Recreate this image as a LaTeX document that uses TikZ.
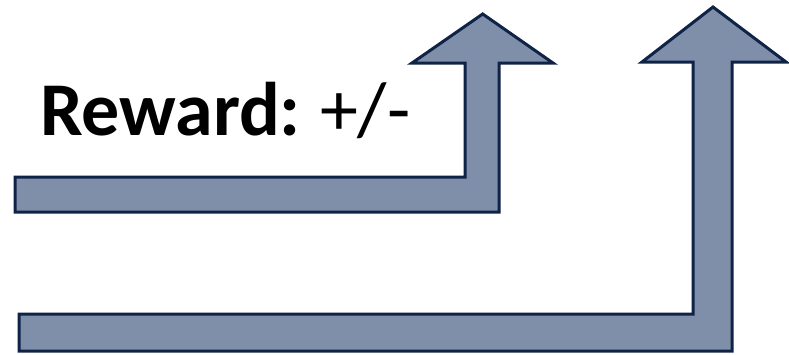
\documentclass[tikz,border=0pt]{standalone}
\usepackage{fontspec}
\setmainfont{Carlito}
\begin{document}
\begin{tikzpicture}[x=1pt,y=-1pt,
  bentarrow/.style={fill=arrowfill,draw=arrowline,line width=3pt,line join=miter},
  label/.style={anchor=base west,inner sep=0pt,font=\fontsize{76}{90}\selectfont}]
\definecolor{arrowfill}{HTML}{7F8FA9}
\definecolor{arrowline}{HTML}{0F2347}
\useasboundingbox (0,0) rectangle (789,354);
\draw[bentarrow] (15,177) -- (465,177) -- (465,63) -- (412,63) -- (482.7,14) -- (553,63) -- (499,63) -- (499,212) -- (15,212) -- cycle;
\draw[bentarrow] (19,314) -- (693,314) -- (693,62) -- (642,62) -- (713,7) -- (786,62) -- (732,62) -- (732,351) -- (19,351) -- cycle;
\node[label] (reward) at (40,135) {\textbf{Reward:}\hspace{-0.05em} +/-};
\end{tikzpicture}
\end{document}
